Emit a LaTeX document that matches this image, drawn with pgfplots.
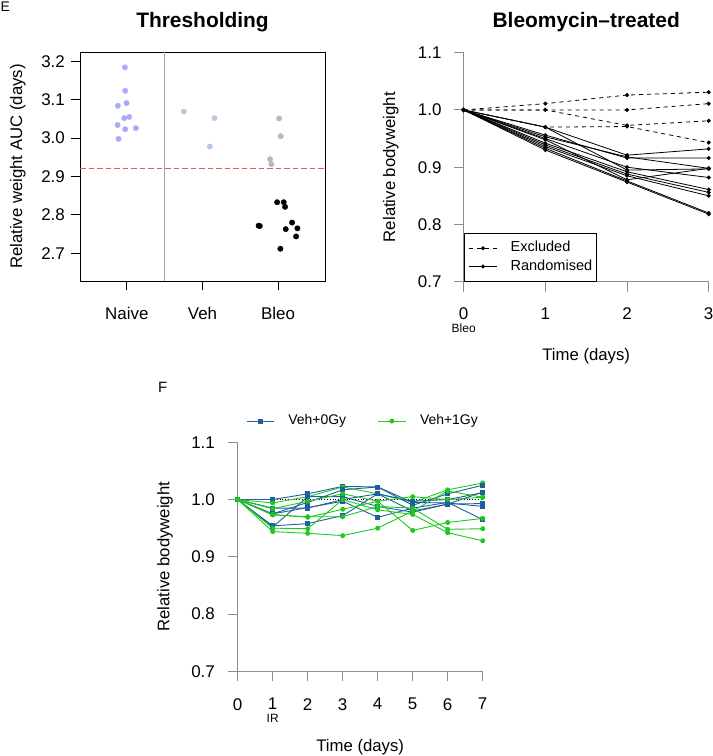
\documentclass[border=0pt]{standalone}
\usepackage{pgfplots}
\pgfplotsset{compat=1.18}
\usepackage{fontspec}
\setmainfont{Liberation Sans}
\definecolor{naivec}{RGB}{170,170,250}
\definecolor{vehc}{RGB}{182,202,226}
\definecolor{greyc}{RGB}{185,185,185}
\definecolor{redc}{RGB}{255,80,80}
\definecolor{sepc}{RGB}{165,165,165}
\definecolor{axc}{RGB}{140,140,140}
\definecolor{blueF}{RGB}{32,94,160}
\definecolor{greenF}{RGB}{30,200,30}
\newcommand{\fs}[1]{\fontsize{#1}{#1}\selectfont}
\pgfplotsset{
  mystyle/.style={
    scale only axis, width=245bp, height=229bp, clip=false,
    /pgf/number format/assume math mode=true,
    tick label style={font=\fs{17}},
    label style={font=\fs{16.8}},
    yticklabel style={/pgf/number format/fixed,/pgf/number format/fixed zerofill,/pgf/number format/precision=1},
    tick align=outside, xtick pos=left, ytick pos=left,
  },
}
\begin{document}
\begin{tikzpicture}
\path[use as bounding box] (0,0) rectangle (713bp,756bp);
\node[anchor=base west,font=\fs{14},inner sep=0pt] at (0.5bp,744bp) {E};
\node[anchor=base west,font=\fs{15},inner sep=0pt] at (158bp,363bp) {F};

% ---------------- Panel E left ----------------
\begin{axis}[mystyle,
  at={(80bp,475bp)}, anchor=south west,
  xmin=0.38, xmax=3.62, ymin=2.628, ymax=3.224,
  xtick={1,2,3}, xticklabels={Naive,Veh,Bleo},
  ytick={2.7,2.8,2.9,3.0,3.1,3.2},
  major tick length=9bp,
  axis line style={black,line width=0.9bp},
  tick style={black,line width=0.9bp},
  xticklabel style={anchor=north,inner sep=0pt,yshift=-17.5bp},
  yticklabel style={anchor=east,inner sep=0pt,xshift=-6bp},
  ylabel={Relative weight AUC (days)},
  ylabel style={at={(rel axis cs:-0.2367,0.5)},anchor=base},
  title={Thresholding},
  title style={at={(rel axis cs:0.5,1.0817)},anchor=base,font=\bfseries\fs{21}},
]
\addplot[sepc,line width=1.3bp] coordinates {(1.5,2.628)(1.5,3.224)};
\addplot[redc,line width=1.4bp,dash pattern=on 5.5bp off 3bp] coordinates {(0.38,2.92)(3.62,2.92)};
\addplot[only marks,mark=*,mark size=2.7bp,color=naivec,mark options={draw=naivec,fill=naivec}] coordinates {
(0.974,3.184)(0.978,3.123)(0.996,3.091)(0.881,3.084)(0.965,3.052)(1.031,3.055)(0.877,3.034)(0.978,3.023)(1.119,3.026)(0.890,2.998)};
\addplot[only marks,mark=*,mark size=2.7bp,color=vehc,mark options={draw=vehc,fill=vehc}] coordinates {
(1.753,3.069)(2.159,3.052)(2.097,2.978)};
\addplot[only marks,mark=*,mark size=2.7bp,color=greyc,mark options={draw=greyc,fill=greyc}] coordinates {
(3.013,3.051)(3.034,3.005)(2.894,2.945)(2.911,2.932)};
\addplot[only marks,mark=*,mark size=2.7bp,color=black,mark options={draw=black,fill=black}] coordinates {
(2.987,2.833)(3.074,2.833)(3.092,2.821)(2.742,2.772)(2.758,2.771)(3.101,2.763)(3.185,2.780)(3.255,2.765)(3.238,2.744)(3.030,2.712)};
\end{axis}

% ---------------- Panel E right ----------------
\begin{axis}[mystyle,
  at={(463.7bp,474.3bp)}, anchor=south west,
  xmin=0, xmax=3, ymin=0.7, ymax=1.1,
  xtick={0,1,2,3}, ytick={0.7,0.8,0.9,1.0,1.1},
  axis lines*=left,
  major tick length=10bp,
  axis line style={axc,line width=1bp},
  tick style={axc,line width=1bp},
  xticklabel style={anchor=north,inner sep=0pt,yshift=-15.8bp},
  yticklabel style={anchor=east,inner sep=0pt,xshift=-12bp},
  ylabel={Relative bodyweight},
  ylabel style={at={(rel axis cs:-0.2804,0.5)},anchor=base},
  xlabel={Time (days)},
  xlabel style={at={(rel axis cs:0.5,-0.346)},anchor=base},
  title={Bleomycin–treated},
  title style={at={(rel axis cs:0.5,1.0847)},anchor=base,font=\bfseries\fs{21}},
  legend image code/.code={\draw[mark repeat=2,mark phase=2,#1] plot coordinates {(0bp,0bp)(13.85bp,0bp)(27.7bp,0bp)};},
  legend style={at={(axis cs:0,0.7)},anchor=south west,draw=black,line width=0.9bp,
    fill=white,inner xsep=4.6bp,inner ysep=8bp,row sep=4.8bp,
    font=\fs{14.6},
    nodes={inner sep=0pt,text height=10.5bp,text depth=3bp},
    /tikz/every odd column/.append style={column sep=13.3bp}},
  legend cell align=left,
  ex/.style={black,line width=0.8bp,dash pattern=on 4bp off 4bp,mark=*,mark size=1.6bp,mark options={solid,fill=black}},
  ra/.style={black,line width=0.8bp,solid,mark=*,mark size=1.6bp,mark options={solid,fill=black}},
]
\addplot[ex] coordinates {(0,1)(1,1.011)(2,1.026)(3,1.031)};
\addlegendentry{Excluded}
\addplot[ex,forget plot] coordinates {(0,1)(1,1.000)(2,1.000)(3,1.011)};
\addplot[ex,forget plot] coordinates {(0,1)(1,1.000)(2,0.973)(3,0.981)};
\addplot[ex,forget plot] coordinates {(0,1)(1,0.970)(2,0.971)(3,0.943)};
\addplot[ra] coordinates {(0,1)(1,0.970)(2,0.921)(3,0.932)};
\addlegendentry{Randomised}
\addplot[ra,forget plot] coordinates {(0,1)(1,0.970)(2,0.895)(3,0.897)};
\addplot[ra,forget plot] coordinates {(0,1)(1,0.956)(2,0.916)(3,0.916)};
\addplot[ra,forget plot] coordinates {(0,1)(1,0.953)(2,0.918)(3,0.898)};
\addplot[ra,forget plot] coordinates {(0,1)(1,0.950)(2,0.900)(3,0.882)};
\addplot[ra,forget plot] coordinates {(0,1)(1,0.948)(2,0.878)(3,0.898)};
\addplot[ra,forget plot] coordinates {(0,1)(1,0.942)(2,0.892)(3,0.861)};
\addplot[ra,forget plot] coordinates {(0,1)(1,0.939)(2,0.888)(3,0.856)};
\addplot[ra,forget plot] coordinates {(0,1)(1,0.936)(2,0.885)(3,0.850)};
\addplot[ra,forget plot] coordinates {(0,1)(1,0.933)(2,0.876)(3,0.820)};
\addplot[ra,forget plot] coordinates {(0,1)(1,0.930)(2,0.874)(3,0.818)};
\node[anchor=base,font=\fs{12},inner sep=0pt] at ([yshift=-51bp]axis cs:0,0.7) {Bleo};
\end{axis}

% ---------------- Panel F ----------------
\begin{axis}[mystyle,
  at={(237.7bp,84.7bp)}, anchor=south west,
  xmin=0, xmax=7, ymin=0.7, ymax=1.1,
  xtick={0,1,...,7}, ytick={0.7,0.8,0.9,1.0,1.1},
  axis lines*=left,
  major tick length=10bp,
  axis line style={axc,line width=1bp},
  tick style={axc,line width=1bp},
  xticklabel style={anchor=north,inner sep=0pt,yshift=-16.7bp},
  yticklabel style={anchor=east,inner sep=0pt,xshift=-12.7bp},
  ylabel={Relative bodyweight},
  ylabel style={at={(rel axis cs:-0.2792,0.5)},anchor=base},
  xlabel={Time (days)},
  xlabel style={at={(rel axis cs:0.5,-0.3486)},anchor=base},
  legend image code/.code={\draw[mark repeat=2,mark phase=2,#1] plot coordinates {(0bp,0bp)(13.65bp,0bp)(27.3bp,0bp)};},
  legend columns=2,
  legend style={at={(rel axis cs:0.034,1.0927)},anchor=west,draw=none,fill=none,
    inner xsep=0pt,inner ysep=0pt,font=\fs{14},
    nodes={inner sep=0pt,text height=10bp,text depth=3bp},
    /tikz/every odd column/.append style={column sep=14bp},
    /tikz/every even column/.append style={column sep=31.6bp}},
  legend cell align=left,
  bl/.style={blueF,line width=0.9bp,mark=square*,mark size=2bp,mark options={fill=blueF,draw=blueF}},
  gr/.style={greenF,line width=0.9bp,mark=*,mark size=2bp,mark options={fill=greenF,draw=greenF}},
]
\addplot[forget plot,black,line width=0.8bp,dotted] coordinates {(0,1)(7,1)};
\addplot[bl] coordinates {(0,1)(1,1.000)(2,1.010)(3,1.023)(4,1.022)(5,0.995)(6,0.994)(7,0.988)};
\addlegendentry{Veh+0Gy}
\addplot[gr] coordinates {(0,1)(1,0.994)(2,1.005)(3,1.022)(4,1.010)(5,0.995)(6,1.017)(7,1.029)};
\addlegendentry{Veh+1Gy}
\addplot[bl,forget plot] coordinates {(0,1)(1,0.975)(2,0.995)(3,1.017)(4,1.022)(5,0.990)(6,1.010)(7,1.025)};
\addplot[bl,forget plot] coordinates {(0,1)(1,0.985)(2,0.985)(3,1.000)(4,1.010)(5,0.980)(6,0.992)(7,1.013)};
\addplot[bl,forget plot] coordinates {(0,1)(1,0.975)(2,0.986)(3,0.997)(4,0.969)(5,0.985)(6,0.995)(7,0.965)};
\addplot[bl,forget plot] coordinates {(0,1)(1,0.954)(2,0.958)(3,0.972)(4,1.010)(5,0.997)(6,1.000)(7,1.012)};
\addplot[bl,forget plot] coordinates {(0,1)(1,0.952)(2,1.005)(3,1.005)(4,0.988)(5,0.978)(6,0.992)(7,0.993)};
\addplot[gr,forget plot] coordinates {(0,1)(1,0.984)(2,0.997)(3,1.010)(4,0.997)(5,1.005)(6,1.000)(7,1.004)};
\addplot[gr,forget plot] coordinates {(0,1)(1,0.974)(2,0.969)(3,0.983)(4,0.997)(5,0.946)(6,0.960)(7,0.967)};
\addplot[gr,forget plot] coordinates {(0,1)(1,0.973)(2,0.970)(3,0.970)(4,0.988)(5,0.985)(6,0.948)(7,0.949)};
\addplot[gr,forget plot] coordinates {(0,1)(1,0.950)(2,0.949)(3,1.000)(4,0.982)(5,0.974)(6,0.942)(7,0.928)};
\addplot[gr,forget plot] coordinates {(0,1)(1,0.944)(2,0.941)(3,0.937)(4,0.950)(5,0.980)(6,1.015)(7,1.004)};
\node[anchor=base,font=\fs{12},inner sep=0pt] at ([yshift=-50.7bp]axis cs:1,0.7) {IR};
\end{axis}
\end{tikzpicture}
\end{document}
